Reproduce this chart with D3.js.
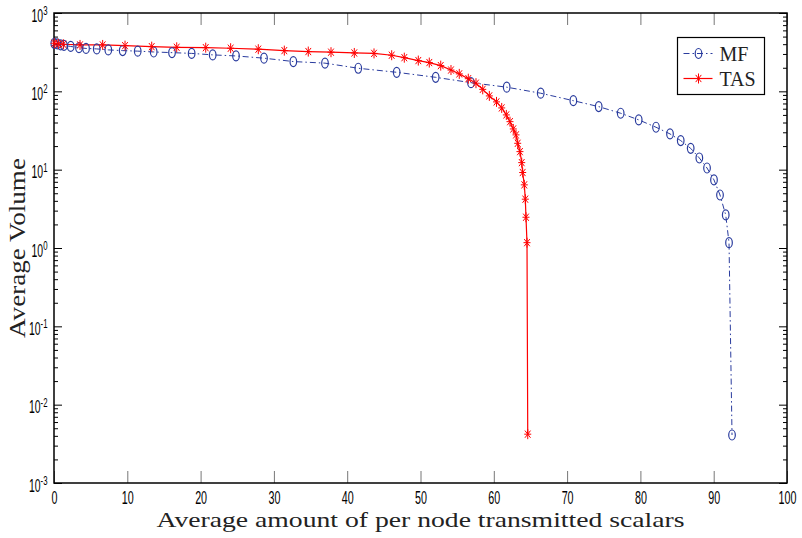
<!DOCTYPE html>
<html>
<head>
<meta charset="utf-8">
<script src="https://cdn.jsdelivr.net/npm/d3@7"></script>
<style>
  body { margin: 0; background: #fff; }
  svg { display: block; }
  .tick text { font-family: "Liberation Sans", Arial, sans-serif; }
</style>
</head>
<body>
<svg id="chart" width="802" height="538"></svg>
<script>
// MF series (blue circles, dash-dot)
let mfX = [0.04, 0.45, 0.91, 1.36, 2.28, 3.41, 4.37, 5.83, 7.41, 9.37, 11.42, 13.6, 16.1, 18.78,
  21.65, 24.83, 28.65, 32.65, 36.97, 41.51, 46.75, 52.07, 56.89, 61.76, 66.4, 70.85, 74.31,
  77.31, 79.77, 82.13, 84.04, 85.5, 86.86, 88.04, 89.09, 90.04, 90.86, 91.64, 92.09, 92.5];
let mfY = [409, 403, 391, 386, 374, 361, 353, 348, 338, 331, 326, 318, 312, 305, 292, 283, 265,
  240, 229, 197, 175, 151, 129, 113, 94.6, 76, 63.8, 52.5, 43.2, 34.8, 28.6, 23.5, 18.7, 14.1,
  10.5, 7.4, 4.75, 2.64, 1.17, 0.0041];
// TAS series (red stars, solid)
let tasX = [0.04, 0.59, 1.27, 3.55, 6.64, 9.69, 13.33, 16.74, 20.7, 24.1, 27.87, 31.42, 34.69,
  37.79, 40.97, 43.66, 46.07, 47.79, 49.7, 51.2, 52.76, 54.16, 55.29, 56.52, 57.57, 58.49, 59.39,
  60.37, 61.08, 61.71, 62.21, 62.66, 63.03, 63.26, 63.57, 63.81, 63.94, 64.16, 64.3, 64.39,
  64.53, 64.63];
let tasY = [411, 403, 399, 391, 391, 383, 372, 365, 361, 355, 345, 331, 322, 316, 309, 305, 289,
  269, 247, 233, 213, 187, 167, 145, 127, 106, 87.4, 73.3, 61.4, 50, 41, 33.1, 27.8, 21.7, 17,
  12.3, 9.2, 6.4, 4.2, 2.47, 1.17, 0.0042];
let xTicks = [0, 10, 20, 30, 40, 50, 60, 70, 80, 90, 100];
let yExponents = [-3, -2, -1, 0, 1, 2, 3];
let seriesNames = ["MF", "TAS"];

let blue = "#2a3c9e";
let red = "#ff0000";
let squeeze = 0.58; // tick labels are narrow in the original

let svg = d3.select("#chart");
let margin = {top: 13, right: 15, bottom: 55, left: 54};
let width = 802, height = 538;
let plotWidth = width - margin.left - margin.right;
let plotHeight = height - margin.top - margin.bottom;

let x = d3.scaleLinear().domain([0, 100]).range([0, plotWidth]);
let y = d3.scaleLog().domain([1e-3, 1e3]).range([plotHeight, 0]);

let plot = svg.append("g").attr("transform", "translate(" + margin.left + "," + margin.top + ")");

// minor log ticks 2..9 x 10^k
let minors = [];
yExponents.slice(0, -1).forEach(function(e) {
  for (let m = 2; m <= 9; m++) minors.push(m * Math.pow(10, e));
});
let majors = yExponents.map(function(e) { return Math.pow(10, e); });

// x axes (bottom with labels, top mirrored)
let xBottom = plot.append("g").attr("transform", "translate(0," + plotHeight + ")")
  .call(d3.axisBottom(x).tickValues(xTicks).tickSizeInner(-12).tickSizeOuter(0).tickPadding(8)
    .tickFormat(d3.format("d")));
xBottom.selectAll(".tick text").attr("font-size", 18.5).attr("fill", "#000")
  .attr("transform", "scale(" + squeeze + ",1)");
xBottom.selectAll(".tick line").attr("stroke", "#777");
let xTop = plot.append("g")
  .call(d3.axisTop(x).tickValues(xTicks).tickSizeInner(-12).tickSizeOuter(0).tickFormat(""));
xTop.selectAll(".tick line").attr("stroke", "#777");

// y axes
let yLeft = plot.append("g")
  .call(d3.axisLeft(y).tickValues(majors).tickSizeInner(-8).tickSizeOuter(0).tickFormat(""));
yLeft.selectAll(".tick").each(function(d) {
  let t = d3.select(this).append("text")
    .attr("fill", "#000").attr("text-anchor", "end")
    .attr("transform", "scale(" + squeeze + ",1)")
    .attr("x", -6.5 / squeeze).attr("y", 8);
  t.append("tspan").attr("font-size", 18).text("10");
  t.append("tspan").attr("font-size", 13.5).attr("dy", -6.5).text(Math.round(Math.log10(d)));
});
plot.append("g").call(d3.axisLeft(y).tickValues(minors).tickSizeInner(-4).tickSizeOuter(0).tickFormat(""));
plot.append("g").attr("transform", "translate(" + plotWidth + ",0)")
  .call(d3.axisRight(y).tickValues(majors).tickSizeInner(-8).tickSizeOuter(0).tickFormat(""));
plot.append("g").attr("transform", "translate(" + plotWidth + ",0)")
  .call(d3.axisRight(y).tickValues(minors).tickSizeInner(-4).tickSizeOuter(0).tickFormat(""));
plot.selectAll(".domain").remove();

// frame
plot.append("rect").attr("width", plotWidth).attr("height", plotHeight)
  .attr("fill", "none").attr("stroke", "#000").attr("stroke-width", 1.5);

// lines
let mfData = mfX.map(function(d, i) { return [d, mfY[i]]; });
let tasData = tasX.map(function(d, i) { return [d, tasY[i]]; });
let line = d3.line().x(function(d) { return x(d[0]); }).y(function(d) { return y(d[1]); });

plot.append("path").datum(mfData).attr("d", line)
  .attr("fill", "none").attr("stroke", blue).attr("stroke-width", 1)
  .attr("stroke-dasharray", "6,3,1.5,3");
plot.append("path").datum(tasData).attr("d", line)
  .attr("fill", "none").attr("stroke", red).attr("stroke-width", 1.2);

// markers
function starPath(s) {
  return "M0," + (-5 * s) + "V" + (5 * s) +
    "M" + (-3.5 * s) + ",0H" + (3.5 * s) +
    "M" + (-2.8 * s) + "," + (-3.6 * s) + "L" + (2.8 * s) + "," + (3.6 * s) +
    "M" + (-2.8 * s) + "," + (3.6 * s) + "L" + (2.8 * s) + "," + (-3.6 * s);
}
plot.selectAll("ellipse.mf").data(mfData).enter().append("ellipse").attr("class", "mf")
  .attr("cx", function(d) { return x(d[0]); })
  .attr("cy", function(d) { return y(d[1]); })
  .attr("rx", 3.3).attr("ry", 5)
  .attr("fill", "none").attr("stroke", blue).attr("stroke-width", 1.2);
plot.selectAll("path.tas").data(tasData).enter().append("path").attr("class", "tas")
  .attr("transform", function(d) { return "translate(" + x(d[0]) + "," + y(d[1]) + ")"; })
  .attr("d", starPath(1))
  .attr("fill", "none").attr("stroke", red).attr("stroke-width", 1);

// axis titles
svg.append("text")
  .attr("x", margin.left + plotWidth / 2).attr("y", 527)
  .attr("text-anchor", "middle")
  .attr("font-family", "'Liberation Serif', 'Times New Roman', serif")
  .attr("font-size", 21).attr("textLength", 528).attr("lengthAdjust", "spacingAndGlyphs")
  .attr("fill", "#222").text("Average amount of per node transmitted scalars");
svg.append("text")
  .attr("transform", "translate(25," + (margin.top + plotHeight / 2) + ") rotate(-90)")
  .attr("text-anchor", "middle")
  .attr("font-family", "'Liberation Serif', 'Times New Roman', serif")
  .attr("font-size", 23).attr("textLength", 180).attr("lengthAdjust", "spacingAndGlyphs")
  .attr("fill", "#222").text("Average Volume");

// legend
let legend = svg.append("g").attr("transform", "translate(677.5,37.5)");
legend.append("rect").attr("width", 87).attr("height", 57)
  .attr("fill", "#fff").attr("stroke", "#000").attr("stroke-width", 1.2);
let rows = legend.selectAll("g.row").data(seriesNames).enter().append("g")
  .attr("transform", function(d, i) { return "translate(0," + (16 + i * 25) + ")"; });
rows.append("line").attr("x1", 6).attr("x2", 35)
  .attr("stroke", function(d, i) { return i === 0 ? blue : red; })
  .attr("stroke-width", function(d, i) { return i === 0 ? 1 : 1.2; })
  .attr("stroke-dasharray", function(d, i) { return i === 0 ? "6,3,1.5,3" : null; });
rows.filter(function(d, i) { return i === 0; }).append("ellipse")
  .attr("cx", 21).attr("rx", 3.3).attr("ry", 5)
  .attr("fill", "none").attr("stroke", blue).attr("stroke-width", 1.2);
rows.filter(function(d, i) { return i === 1; }).append("path")
  .attr("transform", "translate(21,0)").attr("d", starPath(1))
  .attr("fill", "none").attr("stroke", red).attr("stroke-width", 1);
rows.append("text").attr("x", 42).attr("y", 7)
  .attr("font-family", "'Liberation Serif', 'Times New Roman', serif")
  .attr("font-size", 20).attr("fill", "#222").text(function(d) { return d; });
</script>
</body>
</html>
